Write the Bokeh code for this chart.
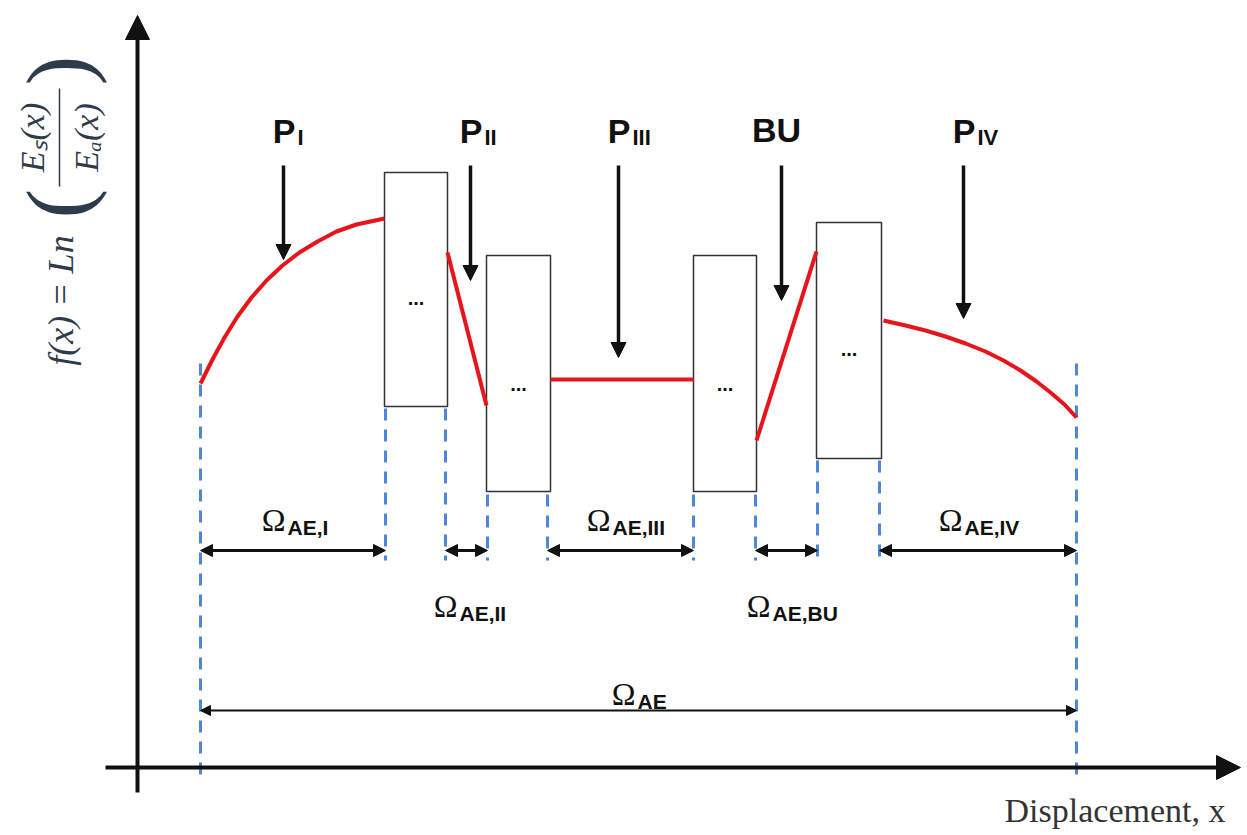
import math
from bokeh.plotting import figure
from bokeh.models import Range1d, Arrow, NormalHead, ColumnDataSource
from bokeh.core.properties import value
from bokeh.embed import file_html
from bokeh.resources import INLINE

# ---------------- schematic data (picture units, y grows downward) ----------------
bound_x      = [200, 385, 445, 487, 547, 693, 755, 817, 879, 1076]
bound_top    = [363, 408, 408, 494, 494, 494, 494, 460, 460, 363]
bound_bottom = [778, 560, 560, 560, 560, 560, 560, 560, 560, 778]

box_left   = [384, 486, 693, 816]
box_right  = [447, 550, 756, 881]
box_top    = [172, 255, 255, 222]
box_bottom = [406, 491, 491, 458]
box_dots_y = [297, 383, 383, 348]

curve1_x = [200, 212, 224, 237, 251, 266, 282, 299, 317, 336, 356, 384]
curve1_y = [383, 359, 337, 316, 297, 280, 265, 252, 241, 231, 224, 218]
curve2_x = [447, 486]
curve2_y = [252, 405]
curve3_x = [550, 693]
curve3_y = [379, 379]
curveBU_x = [756, 816]
curveBU_y = [440, 251]
curve4_x = [883, 905, 925, 945, 965, 985, 1003, 1020, 1036, 1050, 1064, 1076]
curve4_y = [320, 325, 330, 336, 343, 351, 360, 370, 381, 392, 404, 417]

phase_main = ["P", "P", "P", "P"]
phase_sub = ["I", "II", "III", "IV"]
phase_x = [283, 470, 618, 963]
phase_tip = [259, 280, 357, 318]
bu_x = 781
bu_tip = 300
arrow_top = 165

span_start = [200, 445, 547, 755, 879]
span_end = [385, 487, 693, 817, 1076]
span_sub = ["AE,I", "AE,II", "AE,III", "AE,BU", "AE,IV"]
span_label_x = [285, 457, 610, 770, 962]
span_label_y = [519, 605, 519, 605, 519]
span_arrow_y = 550
total_start, total_end = 200, 1076
total_label_x = 635
total_label_y = 693
total_arrow_y = 710

RED = "#e8141b"
BLUE = "#4f86d8"
INK = "#111111"
LABEL = "#2e3b4a"

W, H = 1245, 833
p = figure(width=W, height=H, output_backend="svg", toolbar_location=None,
           x_range=Range1d(0, W), y_range=Range1d(H, 0),
           min_border=0, outline_line_color=None, background_fill_color="white")
p.axis.visible = False
p.grid.visible = False

# domain boundaries (dashed blue)
p.segment(x0=bound_x, y0=bound_top, x1=bound_x, y1=bound_bottom,
          line_color=BLUE, line_width=3, line_dash="12 9")

# coordinate axes
p.add_layout(Arrow(end=NormalHead(size=24, fill_color=INK, line_color=INK),
                   x_start=137, y_start=792, x_end=137, y_end=15,
                   line_width=4, line_color=INK))
p.add_layout(Arrow(end=NormalHead(size=24, fill_color=INK, line_color=INK),
                   x_start=105, y_start=767, x_end=1240, y_end=767,
                   line_width=4, line_color=INK))

# gap boxes
p.quad(left=box_left, right=box_right, top=box_top, bottom=box_bottom,
       fill_color="white", line_color="#333333", line_width=1.5)
p.text(x=[(l + r) / 2 for l, r in zip(box_left, box_right)], y=box_dots_y,
       text=["..."] * 4, text_align="center", text_baseline="middle",
       text_font=value("Liberation Sans"), text_font_style="bold",
       text_font_size="20px", text_color=INK)

# red curves
for cx, cy in [(curve1_x, curve1_y), (curve2_x, curve2_y), (curve3_x, curve3_y),
               (curveBU_x, curveBU_y), (curve4_x, curve4_y)]:
    p.line(cx, cy, line_color=RED, line_width=4, line_join="round")

# phase arrows
ph_src = ColumnDataSource(dict(x0=phase_x + [bu_x], y0=[arrow_top] * 5,
                               x1=phase_x + [bu_x], y1=phase_tip + [bu_tip]))
p.add_layout(Arrow(end=NormalHead(size=15, fill_color=INK, line_color=INK),
                   x_start="x0", y_start="y0", x_end="x1", y_end="y1",
                   source=ph_src, line_width=3.5, line_color=INK))

p.text(x=[x + 12 for x in phase_x], y=[130] * 4, text=phase_main,
       text_align="right", text_baseline="alphabetic",
       text_font=value("Liberation Sans"), text_font_style="bold",
       text_font_size="34px", text_color=INK)
p.text(x=[x + 14 for x in phase_x], y=[137] * 4, text=phase_sub,
       text_align="left", text_baseline="alphabetic",
       text_font=value("Liberation Sans"), text_font_style="bold",
       text_font_size="22px", text_color=INK)
p.text(x=[bu_x - 5], y=[129], text=["BU"], text_align="center",
       text_baseline="alphabetic", text_font=value("Liberation Sans"),
       text_font_style="bold", text_font_size="34px", text_color=INK)

# span arrows
sp_src = ColumnDataSource(dict(x0=span_start, x1=span_end,
                               y=[span_arrow_y] * len(span_start)))
p.add_layout(Arrow(start=NormalHead(size=12, fill_color=INK, line_color=INK),
                   end=NormalHead(size=12, fill_color=INK, line_color=INK),
                   x_start="x0", y_start="y", x_end="x1", y_end="y",
                   source=sp_src, line_width=3, line_color=INK))
p.add_layout(Arrow(start=NormalHead(size=10, fill_color=INK, line_color=INK),
                   end=NormalHead(size=10, fill_color=INK, line_color=INK),
                   x_start=total_start, y_start=total_arrow_y,
                   x_end=total_end, y_end=total_arrow_y,
                   line_width=2, line_color=INK))

om_x = span_label_x + [total_label_x]
om_y = span_label_y + [total_label_y]
p.text(x=om_x, y=om_y, text=["Ω"] * len(om_x), text_align="right",
       text_baseline="alphabetic", text_font=value("Liberation Serif"),
       text_font_size="32px", text_color=INK)
p.text(x=[x + 2 for x in om_x], y=[y + 8 for y in om_y],
       text=span_sub + ["AE"], text_align="left", text_baseline="alphabetic",
       text_font=value("Liberation Sans"), text_font_style="bold",
       text_font_size="21px", text_color=INK)

# y-axis label  f(x) = Ln( Es(x) / Ea(x) )
ang = math.pi / 2
p.text(x=[60], y=[300], text=["f(x) = Ln"], angle=ang, text_align="center",
       text_baseline="middle", text_font=value("Liberation Serif"),
       text_font_style="italic", text_font_size="36px", text_color=LABEL)
p.text(x=[58, 58], y=[203, 70], text=["(", ")"], angle=ang, text_align="center",
       text_baseline="middle", text_font=value("Liberation Serif"),
       text_font_size="88px", text_color=LABEL)
p.text(x=[32, 86], y=[137, 137], text=["Eₛ(x)", "Eₐ(x)"], angle=ang,
       text_align="center", text_baseline="middle",
       text_font=value("Liberation Serif"), text_font_style="italic",
       text_font_size="34px", text_color=LABEL)
p.segment(x0=[59], y0=[88], x1=[59], y1=[186], line_color=LABEL, line_width=1.5)

# x-axis label
p.text(x=[1225], y=[810], text=["Displacement, x"], text_align="right",
       text_baseline="middle", text_font=value("Liberation Serif"),
       text_font_size="34px", text_color="#333333")

open("out.html", "w").write(file_html(p, INLINE))
